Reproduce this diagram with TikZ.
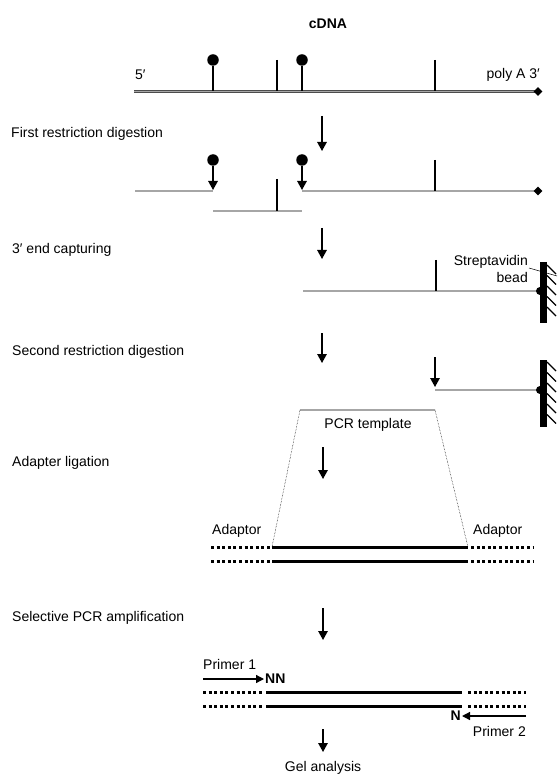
\documentclass[tikz,border=0pt]{standalone}
\usepackage{fontspec}
\setmainfont{Liberation Sans}
\usetikzlibrary{arrows.meta,shapes.geometric}
\begin{document}
\begin{tikzpicture}[x=1pt,y=-1pt,
  txt/.style={font=\fontsize{14}{16}\selectfont, inner sep=0pt},
  bold/.style={font=\fontsize{14}{16}\selectfont\bfseries},
  dl/.style={draw=black!70, double=gray!70, line width=0.75pt, double distance=1.2pt},
  tick/.style={line width=1.3pt},
  stem/.style={line width=1.5pt},
  ball/.style={circle, fill=black, inner sep=0pt, minimum size=11.5pt},
  darr/.style={line width=1.4pt, -{Triangle[length=9pt,width=9.5pt]}},
  solidstrand/.style={line width=3pt},
  dotstrand/.style={line width=3pt, dash pattern=on 3pt off 2.6pt},
  endtip/.style={diamond, fill=black, inner sep=0pt, minimum size=9pt},
  hatch/.style={line width=1.1pt}
]
\useasboundingbox (0,0) rectangle (559,783);

% title
\node[txt, bold] (title) at (328,24) {cDNA};

% step labels
\node[txt, anchor=west] (l1) at (11,134) {First restriction digestion};
\node[txt, anchor=west] (l2) at (12,250) {3′ end capturing};
\node[txt, anchor=west] (l3) at (12,352) {Second restriction digestion};
\node[txt, anchor=west] (l4) at (12,463) {Adapter ligation};
\node[txt, anchor=west] (l5) at (12,618) {Selective PCR amplification};

% ---- cDNA line
\coordinate (a0) at (134,91.5);
\coordinate (a1) at (538,91.5);
\draw[dl] (a0) -- (a1);
\node[endtip] (d1) at (a1) {};
\node[txt, anchor=west] (five) at (135,75) {5′};
\node[txt, anchor=east] (polyA) at (540,75) {poly A 3′};
\node[ball] (b1) at (213,60) {};
\node[ball] (b2) at (302,60) {};
\coordinate (b1f) at (213,91);
\coordinate (b2f) at (302,91);
\draw[stem] (b1) -- (b1f);
\draw[stem] (b2) -- (b2f);
\coordinate (t1a) at (277,60); \coordinate (t1b) at (277,91);
\coordinate (t2a) at (435,60); \coordinate (t2b) at (435,91);
\draw[tick] (t1a) -- (t1b);
\draw[tick] (t2a) -- (t2b);

% arrow 1
\coordinate (A1s) at (322,116); \coordinate (A1e) at (322,151);
\draw[darr] (A1s) -- (A1e);

% ---- first digestion
\coordinate (f1a) at (135,191); \coordinate (f1b) at (213,191);
\coordinate (f2a) at (213,211); \coordinate (f2b) at (302,211);
\coordinate (f3a) at (302,191); \coordinate (f3b) at (538,191);
\draw[dl] (f1a) -- (f1b);
\draw[dl] (f2a) -- (f2b);
\draw[dl] (f3a) -- (f3b);
\node[endtip] (d2) at (f3b) {};
\coordinate (t3a) at (277,179); \coordinate (t3b) at (277,211);
\coordinate (t4a) at (435,160); \coordinate (t4b) at (435,191);
\draw[tick] (t3a) -- (t3b);
\draw[tick] (t4a) -- (t4b);
\node[ball] (b3) at (213,160) {};
\node[ball] (b4) at (302,160) {};
\coordinate (b3f) at (213,190);
\coordinate (b4f) at (302,190);
\draw[darr] (b3) -- (b3f);
\draw[darr] (b4) -- (b4f);

% arrow 2
\coordinate (A2s) at (322,228); \coordinate (A2e) at (322,259);
\draw[darr] (A2s) -- (A2e);

% ---- 3' end capturing
\coordinate (c0) at (303,291); \coordinate (c1) at (540,291);
\draw[dl] (c0) -- (c1);
\coordinate (t5a) at (436,260); \coordinate (t5b) at (436,291);
\draw[tick] (t5a) -- (t5b);
\coordinate (bead1t) at (543.5,262); \coordinate (bead1b) at (543.5,323);
\draw[line width=6.5pt] (bead1t) -- (bead1b);
\fill (c1) circle (4pt);
\foreach \yy in {265,275.5,286,296.5,307}
  \draw[hatch] (547,\yy) -- (556,\yy+9);
\node[txt, anchor=east] (strep) at (528,262) {Streptavidin};
\node[txt, anchor=east] (bead) at (528,277) {bead};
\coordinate (lead) at (557,276);
\draw[line width=0.5pt] (strep.east) ++(1,6) -- (lead);

% arrow 3
\coordinate (A3s) at (322,333); \coordinate (A3e) at (322,363);
\draw[darr] (A3s) -- (A3e);

% ---- second digestion
\coordinate (A4s) at (435,357); \coordinate (A4e) at (435,387);
\draw[darr] (A4s) -- (A4e);
\coordinate (e0) at (435,390); \coordinate (e1) at (540,390);
\draw[dl] (e0) -- (e1);
\coordinate (bead2t) at (543.5,360); \coordinate (bead2b) at (543.5,427);
\draw[line width=6.5pt] (bead2t) -- (bead2b);
\fill (e1) circle (4pt);
\foreach \yy in {362,372.5,383,393.5,404,414.5}
  \draw[hatch] (547,\yy) -- (556,\yy+9);

% ---- PCR template
\coordinate (p0) at (300,410); \coordinate (p1) at (435,410);
\draw[dl] (p0) -- (p1);
\node[txt] (pcrt) at (368,425) {PCR template};

% arrow 4
\coordinate (A5s) at (323,447); \coordinate (A5e) at (323,479);
\draw[darr] (A5s) -- (A5e);

% ---- adapter ligation
\coordinate (s1a) at (272,547); \coordinate (s1b) at (468,547);
\coordinate (s2a) at (272,561); \coordinate (s2b) at (468,561);
\draw[solidstrand] (s1a) -- (s1b);
\draw[solidstrand] (s2a) -- (s2b);
\coordinate (o1a) at (211,547); \coordinate (o1b) at (270,547);
\coordinate (o2a) at (211,561); \coordinate (o2b) at (270,561);
\coordinate (o3a) at (471,547); \coordinate (o3b) at (533,547);
\coordinate (o4a) at (471,561); \coordinate (o4b) at (533,561);
\draw[dotstrand] (o1a) -- (o1b);
\draw[dotstrand] (o2a) -- (o2b);
\draw[dotstrand] (o3a) -- (o3b);
\draw[dotstrand] (o4a) -- (o4b);
\draw[densely dotted, line width=0.5pt] (p0) -- (s1a);
\draw[densely dotted, line width=0.5pt] (p1) -- (s1b);
\node[txt, anchor=west] (ad1) at (212,531) {Adaptor};
\node[txt, anchor=west] (ad2) at (473,531) {Adaptor};

% arrow 5
\coordinate (A6s) at (323,608); \coordinate (A6e) at (323,640);
\draw[darr] (A6s) -- (A6e);

% ---- selective PCR
\coordinate (q1a) at (266,692); \coordinate (q1b) at (462,692);
\coordinate (q2a) at (266,706); \coordinate (q2b) at (462,706);
\draw[solidstrand] (q1a) -- (q1b);
\draw[solidstrand] (q2a) -- (q2b);
\coordinate (r1a) at (203,692); \coordinate (r1b) at (262,692);
\coordinate (r2a) at (203,706); \coordinate (r2b) at (262,706);
\coordinate (r3a) at (468,692); \coordinate (r3b) at (526,692);
\coordinate (r4a) at (468,706); \coordinate (r4b) at (526,706);
\draw[dotstrand] (r1a) -- (r1b);
\draw[dotstrand] (r2a) -- (r2b);
\draw[dotstrand] (r3a) -- (r3b);
\draw[dotstrand] (r4a) -- (r4b);
\node[txt, anchor=west] (pr1) at (203,664) {Primer 1};
\coordinate (pa1s) at (203,679); \coordinate (pa1e) at (264,679);
\draw[line width=1.3pt, -{Triangle[length=8pt,width=8pt]}] (pa1s) -- (pa1e);
\node[txt, bold, anchor=west] (nn) at (265,679) {NN};
\coordinate (pa2s) at (526,716); \coordinate (pa2e) at (462,716);
\draw[line width=1.3pt, -{Triangle[length=8pt,width=8pt]}] (pa2s) -- (pa2e);
\node[txt, bold, anchor=east] (n) at (461,716) {N};
\node[txt, anchor=east] (pr2) at (526,731) {Primer 2};

% arrow 6
\coordinate (A7s) at (323,729); \coordinate (A7e) at (323,752);
\draw[darr] (A7s) -- (A7e);
\node[txt] (gel) at (323,768) {Gel analysis};
\end{tikzpicture}
\end{document}
